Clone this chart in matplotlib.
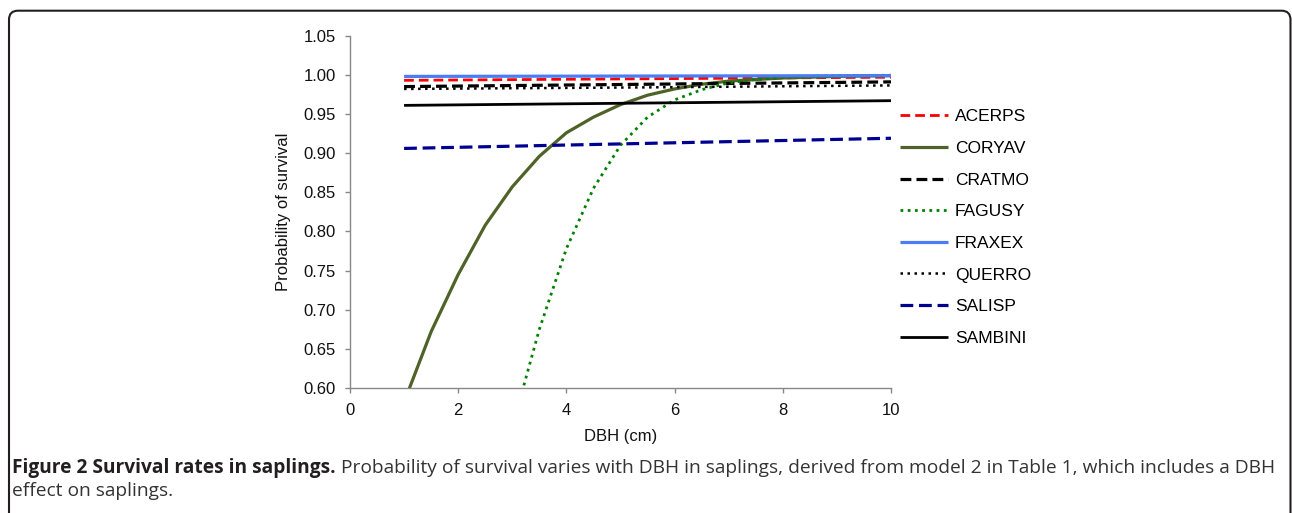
import matplotlib
matplotlib.use("Agg")
import matplotlib.pyplot as plt
from matplotlib.patches import FancyBboxPatch

# DBH (cm) steps used by the model curves
dbh = [1.0, 1.5, 2.0, 2.5, 3.0, 3.5, 4.0, 4.5, 5.0, 5.5,
       6.0, 6.5, 7.0, 7.5, 8.0, 8.5, 9.0, 9.5, 10.0]
dbh_fagusy = dbh[4:]
dbh_flat = [1.0, 5.5, 10.0]

acerps = [0.993, 0.995, 0.997]
coryav = [0.582, 0.672, 0.745, 0.808, 0.857, 0.896, 0.926, 0.946, 0.962, 0.974,
          0.982, 0.988, 0.992, 0.994, 0.996, 0.997, 0.998, 0.9985, 0.999]
cratmo = [0.985, 0.988, 0.991]
fagusy = [0.550, 0.675, 0.778, 0.855, 0.910, 0.946, 0.968, 0.981, 0.990,
          0.994, 0.997, 0.998, 0.999, 0.9993, 0.9995]
fraxex = [0.998, 0.9985, 0.999]
querro = [0.982, 0.984, 0.9865]
salisp = [0.906, 0.9125, 0.919]
sambini = [0.961, 0.964, 0.967]

y_ticks = [0.60, 0.65, 0.70, 0.75, 0.80, 0.85, 0.90, 0.95, 1.00, 1.05]
x_ticks = [0, 2, 4, 6, 8, 10]

caption_bold = "Figure 2 Survival rates in saplings."
caption_1 = (" Probability of survival varies with DBH in saplings, derived from "
             "model 2 in Table 1, which includes a DBH")
caption_2 = "effect on saplings."

plt.rcParams["font.family"] = ["Liberation Sans", "DejaVu Sans"]

W, H = 1292, 513
fig = plt.figure(figsize=(W / 100, H / 100), dpi=100)
ax = fig.add_axes([350 / W, 1 - 388 / H, 541 / W, (388 - 35.7) / H])

series = [
    ("ACERPS", dbh_flat, acerps, "#FF0000", 2.0, (0, (3.5, 1.8))),
    ("CORYAV", dbh, coryav, "#4F6228", 2.3, "-"),
    ("CRATMO", dbh_flat, cratmo, "#000000", 2.3, (0, (3.4, 1.6))),
    ("FAGUSY", dbh_fagusy, fagusy, "#008000", 2.0, (0, (1, 1.6))),
    ("FRAXEX", dbh_flat, fraxex, "#4A7CF5", 2.3, "-"),
    ("QUERRO", dbh_flat, querro, "#000000", 1.8, (0, (1, 1.8))),
    ("SALISP", dbh_flat, salisp, "#000090", 2.3, (0, (4.0, 1.8))),
    ("SAMBINI", dbh_flat, sambini, "#000000", 2.0, "-"),
]
for name, xs, ys, col, lw, ls in series:
    ax.plot(xs, ys, color=col, lw=lw, linestyle=ls, label=name,
            solid_capstyle="butt", dash_capstyle="butt")

ax.set_xlim(0, 10)
ax.set_ylim(0.60, 1.05)
ax.set_xticks(x_ticks)
ax.set_yticks(y_ticks)
ax.set_yticklabels([f"{v:.2f}" for v in y_ticks])
for side in ("top", "right"):
    ax.spines[side].set_visible(False)
for side in ("left", "bottom"):
    ax.spines[side].set_color("#888888")
    ax.spines[side].set_linewidth(1.0)
ax.tick_params(axis="both", colors="#888888", labelcolor="#111111",
               labelsize=12, length=3.5, width=1.0)
ax.tick_params(axis="x", pad=7)
ax.tick_params(axis="y", pad=6.5)
ax.set_xlabel("DBH (cm)", fontsize=12, labelpad=8, color="#111111")
ax.set_ylabel("Probability of survival", fontsize=12, labelpad=9, color="#111111")

ax.legend(loc="center left", bbox_to_anchor=(900 / W, 1 - 227.5 / H),
          bbox_transform=fig.transFigure, frameon=False, fontsize=12.5,
          handlelength=2.75, handletextpad=0.4, labelspacing=0.95,
          borderpad=0, borderaxespad=0)

# rounded frame around the figure
frame = FancyBboxPatch((0.09, -0.3), 12.815, 5.13 - 0.107 + 0.3,
                       boxstyle="round,pad=0,rounding_size=0.09",
                       transform=fig.dpi_scale_trans, fill=False,
                       edgecolor="#231f20", lw=1.5)
fig.add_artist(frame)

cap_y1 = 1 - 468 / H
cap_y2 = 1 - 491 / H
cap_size = 13.8
t1 = fig.text(12 / W, cap_y1, caption_bold, family="Open Sans", weight="bold",
              fontsize=cap_size, color="#231f20", va="center")
fig.canvas.draw()
bb = t1.get_window_extent(fig.canvas.get_renderer())
fig.text(bb.x1 / W, cap_y1, caption_1, family="Open Sans", fontsize=cap_size,
         color="#333333", va="center")
fig.text(12 / W, cap_y2, caption_2, family="Open Sans", fontsize=cap_size,
         color="#333333", va="center")

fig.savefig("out.png", dpi=100)
